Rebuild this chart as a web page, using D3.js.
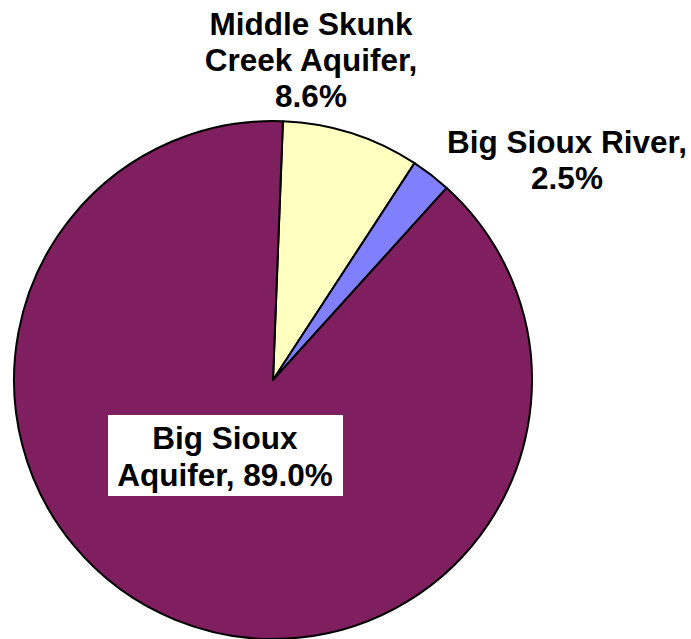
<!DOCTYPE html>
<html>
<head>
<meta charset="utf-8">
<script src="https://cdn.jsdelivr.net/npm/d3@7"></script>
<style>
  body { margin: 0; background: #fff; }
  svg { display: block; }
  text { font-family: "Liberation Sans", Arial, sans-serif; font-weight: bold; fill: #000; }
</style>
</head>
<body>
<svg id="chart" width="691" height="639"></svg>
<script>
// data
const categories = ["Middle Skunk Creek Aquifer", "Big Sioux River", "Big Sioux Aquifer"];
const shares = [8.6, 2.5, 89.0];
const colors = ["#ffffc0", "#8080ff", "#7f1f5f"];
const labelLines = [
  ["Middle Skunk", "Creek Aquifer,", "8.6%"],
  ["Big Sioux River,", "2.5%"],
  ["Big Sioux", "Aquifer, 89.0%"]
];

const svg = d3.select("#chart");
const cx = 273, cy = 380, radius = 259;
const startAngle = 2.2 * Math.PI / 180;

const pie = d3.pie()
  .sort(null)
  .value(function (d) { return d; })
  .startAngle(startAngle)
  .endAngle(startAngle + 2 * Math.PI);

const arc = d3.arc().innerRadius(0).outerRadius(radius);

const g = svg.append("g").attr("transform", "translate(" + cx + "," + cy + ")");

const arcs = pie(shares);

g.selectAll("path")
  .data(arcs)
  .enter()
  .append("path")
  .attr("d", arc)
  .attr("fill", function (d, i) { return colors[i]; })
  .attr("stroke", "#000")
  .attr("stroke-width", 2)
  .attr("stroke-linejoin", "round");

// label positions (anchor centre, first baseline)
const labelPos = [
  { x: 311, y: 35 },
  { x: 567, y: 153 },
  { x: 225, y: 449 }
];
const lineH = 36;
const fontSize = 31.5;

// white box behind the big slice label
svg.append("rect")
  .attr("x", 108).attr("y", 415)
  .attr("width", 235).attr("height", 81)
  .attr("fill", "#fff");

labelLines.forEach(function (lines, i) {
  const t = svg.append("text")
    .attr("text-anchor", "middle")
    .attr("font-size", fontSize);
  lines.forEach(function (line, j) {
    t.append("tspan")
      .attr("x", labelPos[i].x)
      .attr("y", labelPos[i].y + j * (i === 2 ? 37 : lineH))
      .text(line);
  });
});
</script>
</body>
</html>
